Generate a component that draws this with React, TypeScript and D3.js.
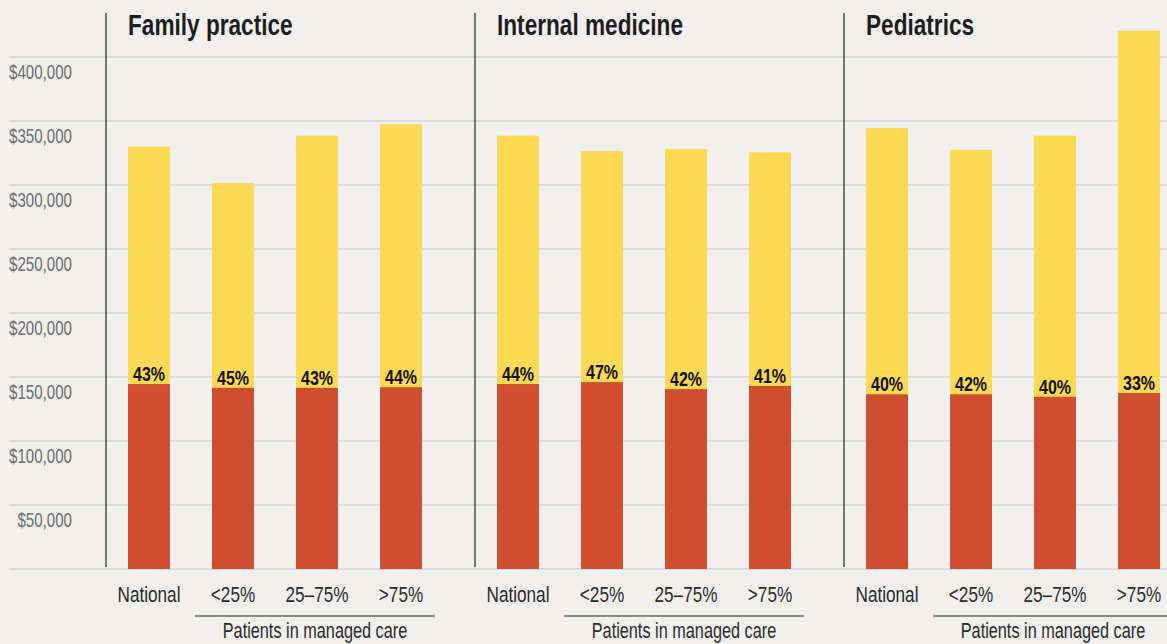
import React, { useEffect, useRef } from "react";
import { select, scaleLinear, scaleBand, format } from "d3";

const panels = ["Family practice", "Internal medicine", "Pediatrics"];
const categories = ["National", "<25%", "25–75%", ">75%"];
const totalIncome = [
  [330000, 301500, 338500, 347500],
  [338500, 326500, 328000, 325500],
  [344500, 327500, 338500, 420500],
];
const managedCareIncome = [
  [144500, 141500, 141500, 142000],
  [144500, 146000, 140500, 143000],
  [136500, 136500, 134500, 137500],
];
const shareLabels = [
  ["43%", "45%", "43%", "44%"],
  ["44%", "47%", "42%", "41%"],
  ["40%", "42%", "40%", "33%"],
];
const yTicks = [0, 50000, 100000, 150000, 200000, 250000, 300000, 350000, 400000];
const groupLabel = "Patients in managed care";

const W = 1167;
const H = 644;
const font = "'Liberation Sans', Arial, sans-serif";
const yellow = "#fed954";
const red = "#cf4e2d";

// condensed look: squeeze the text horizontally
const squeeze = (x, y, sx) => `translate(${x},${y}) scale(${sx},1)`;

function App() {
  const svgRef = useRef(null);

  useEffect(() => {
    const svg = select(svgRef.current);
    svg.selectAll("*").remove();

    const y = scaleLinear().domain([0, 400000]).range([569, 57]);
    const xPanel = scaleBand().domain(panels).range([106, 106 + 369 * 3]);
    const xCat = scaleBand()
      .domain(categories)
      .range([22, 316])
      .paddingInner(0.5)
      .paddingOuter(0);

    svg.append("rect").attr("width", W).attr("height", H).attr("fill", "#f1f0ee");

    // gridlines + y labels
    svg
      .selectAll(".grid")
      .data(yTicks)
      .join("line")
      .attr("class", "grid")
      .attr("x1", 9)
      .attr("x2", W)
      .attr("y1", (d) => y(d))
      .attr("y2", (d) => y(d))
      .attr("stroke", "#d3d5da")
      .attr("stroke-width", 1.5);

    svg
      .selectAll(".ylab")
      .data(yTicks.filter((d) => d > 0))
      .join("text")
      .attr("class", "ylab")
      .attr("transform", (d) => squeeze(72, y(d) + 22, 0.72))
      .attr("text-anchor", "end")
      .attr("font-family", font)
      .attr("font-size", 21)
      .attr("fill", "#6e6e6e")
      .text((d) => format("$,")(d));

    panels.forEach((panel, p) => {
      const g = svg.append("g").attr("transform", `translate(${xPanel(panel)},0)`);

      g.append("line")
        .attr("x1", 0)
        .attr("x2", 0)
        .attr("y1", 13)
        .attr("y2", 567)
        .attr("stroke", "#222")
        .attr("stroke-width", 1.2);

      g.append("text")
        .attr("transform", squeeze(22, 35, 0.78))
        .attr("font-family", font)
        .attr("font-weight", "bold")
        .attr("font-size", 29)
        .attr("fill", "#1e1e1e")
        .text(panel);

      g.selectAll(".total")
        .data(totalIncome[p])
        .join("rect")
        .attr("class", "total")
        .attr("x", (d, i) => xCat(categories[i]))
        .attr("y", (d) => y(d))
        .attr("width", xCat.bandwidth())
        .attr("height", (d) => y(0) - y(d))
        .attr("fill", yellow);

      g.selectAll(".managed")
        .data(managedCareIncome[p])
        .join("rect")
        .attr("class", "managed")
        .attr("x", (d, i) => xCat(categories[i]))
        .attr("y", (d) => y(d))
        .attr("width", xCat.bandwidth())
        .attr("height", (d) => y(0) - y(d))
        .attr("fill", red);

      g.selectAll(".share")
        .data(managedCareIncome[p])
        .join("text")
        .attr("class", "share")
        .attr("transform", (d, i) =>
          squeeze(xCat(categories[i]) + xCat.bandwidth() / 2, y(d) - 3, 0.8)
        )
        .attr("text-anchor", "middle")
        .attr("font-family", font)
        .attr("font-weight", "bold")
        .attr("font-size", 20)
        .attr("fill", "#111")
        .text((d, i) => shareLabels[p][i]);

      g.selectAll(".cat")
        .data(categories)
        .join("text")
        .attr("class", "cat")
        .attr("transform", (d) => squeeze(xCat(d) + xCat.bandwidth() / 2, 602, 0.78))
        .attr("text-anchor", "middle")
        .attr("font-family", font)
        .attr("font-size", 22)
        .attr("fill", "#2b2b2b")
        .text((d) => d);

      const x1 = xCat(categories[1]) - 17;
      const x2 = xCat(categories[3]) + xCat.bandwidth() + 13;
      g.append("line")
        .attr("x1", x1)
        .attr("x2", x2)
        .attr("y1", 616)
        .attr("y2", 616)
        .attr("stroke", "#2b2b2b")
        .attr("stroke-width", 1.2);

      g.append("text")
        .attr("transform", squeeze((x1 + x2) / 2, 638, 0.74))
        .attr("text-anchor", "middle")
        .attr("font-family", font)
        .attr("font-size", 22)
        .attr("fill", "#2b2b2b")
        .text(groupLabel);
    });
  }, []);

  return (
    <svg
      ref={svgRef}
      width={W}
      height={H}
      style={{ position: "absolute", left: 0, top: 0, display: "block" }}
    />
  );
}

export default App;
